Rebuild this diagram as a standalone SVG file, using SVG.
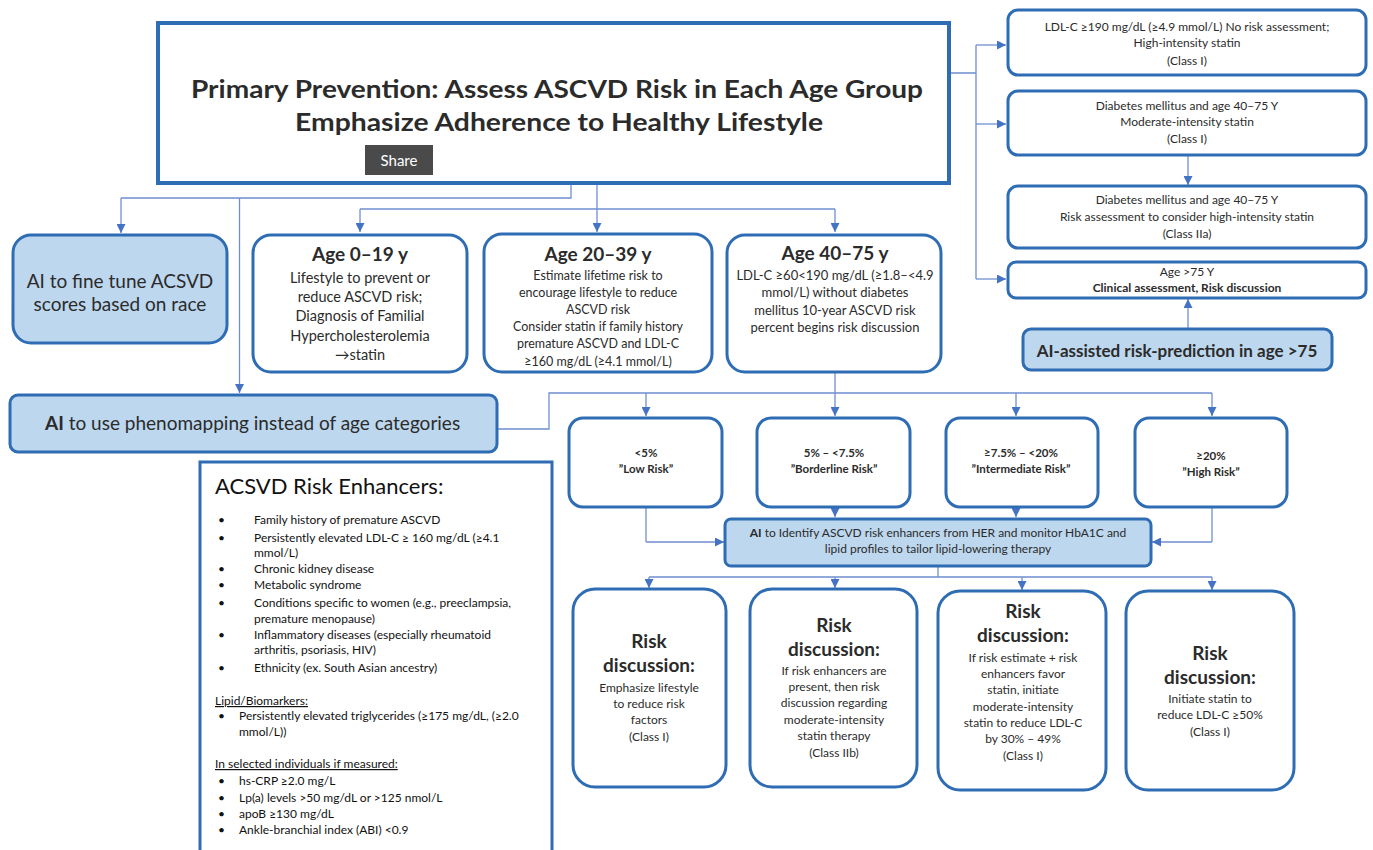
<svg xmlns="http://www.w3.org/2000/svg" width="1373" height="850" viewBox="0 0 1373 850">
<defs>
<marker id="ah" viewBox="0 0 10 10" refX="10" refY="5" markerWidth="9" markerHeight="9" orient="auto" markerUnits="userSpaceOnUse">
<path d="M0,0 L10,5 L0,10 z" fill="#4472c4"/>
</marker>
<style>
.box{fill:#fff;stroke:#2e6db4;stroke-width:3}
.ai{fill:#bdd7ee;stroke:#2e6db4;stroke-width:3}
.conn{fill:none;stroke:#6f8fd0;stroke-width:1.3}
.arr{fill:none;stroke:#6f8fd0;stroke-width:1.3;marker-end:url(#ah)}
text{font-family:Lato,"Liberation Sans",sans-serif;fill:#2b2b2b}
.c{text-anchor:middle}
.t{font-weight:bold;font-size:19px}
.s12{font-size:12px}
.rk{font-size:11.5px;font-weight:bold}
.en{font-size:12px;fill:#111}
</style>
</defs>
<rect width="1373" height="850" fill="#fff"/>

<g id="connectors">
<path class="conn" d="M571,184 V198 H121"/>
<path class="arr" d="M121,198 V233"/>
<path class="arr" d="M239.5,198 V393"/>
<path class="arr" d="M597,184 V232"/>
<path class="conn" d="M360,209 H835"/>
<path class="arr" d="M360,209 V232"/>
<path class="arr" d="M835,209 V232"/>
<path class="conn" d="M950,73 H976 M976,45 V279"/>
<path class="arr" d="M976,45 H1006"/>
<path class="arr" d="M976,124 H1006"/>
<path class="arr" d="M976,279 H1006"/>
<path class="arr" d="M1188,156 V185"/>
<path class="arr" d="M1188,328 V299"/>
<path class="conn" d="M497,429 H549 V393 H1212"/>
<path class="arr" d="M835,373 V416"/>
<path class="arr" d="M646,393 V416"/>
<path class="arr" d="M1016,393 V416"/>
<path class="arr" d="M1212,393 V416"/>
<path class="conn" d="M646,508 V542"/>
<path class="arr" d="M646,542 H724"/>
<path class="conn" d="M1212,508 V542"/>
<path class="arr" d="M1212,542 H1152"/>
<path class="arr" d="M835,508 V517"/>
<path class="arr" d="M1016,508 V517"/>
<path class="conn" d="M938,566 V577 M649,577 H1212"/>
<path class="arr" d="M649,577 V588"/>
<path class="arr" d="M835,577 V588"/>
<path class="arr" d="M1022,577 V590"/>
<path class="arr" d="M1212,577 V590"/>
</g>

<g id="main">
<rect x="158" y="23" width="791" height="160" fill="#fff" stroke="#2e6db4" stroke-width="4"/>
<text x="557" y="98" class="c" font-weight="bold" font-size="25" textLength="732" lengthAdjust="spacingAndGlyphs">Primary Prevention: Assess ASCVD Risk in Each Age Group</text>
<text x="559" y="131" class="c" font-weight="bold" font-size="25" textLength="528" lengthAdjust="spacingAndGlyphs">Emphasize Adherence to Healthy Lifestyle</text>
</g>
<g id="share">
<rect x="365" y="145" width="68" height="30" fill="#4a4a4a"/>
<text x="399" y="166" class="c" font-size="15" style="fill:#fff">Share</text>
</g>

<g id="ai-race">
<rect class="ai" x="13" y="235" width="214" height="108" rx="18"/>
<text x="120" y="288" class="c" font-size="19">AI to fine tune ACSVD</text>
<text x="120" y="311" class="c" font-size="19">scores based on race</text>
</g>

<g id="age0">
<rect class="box" x="253" y="235" width="214" height="137" rx="18"/>
<text x="360" y="261" class="c t">Age 0–19 y</text>
<text class="c" font-size="14.5"><tspan x="360" y="283">Lifestyle to prevent or</tspan><tspan x="360" y="302">reduce ASCVD risk;</tspan><tspan x="360" y="321">Diagnosis of Familial</tspan><tspan x="360" y="341">Hypercholesterolemia</tspan><tspan x="360" y="360">→statin</tspan></text>
</g>

<g id="age20">
<rect class="box" x="484" y="234" width="228" height="138" rx="18"/>
<text x="598" y="261" class="c t">Age 20–39 y</text>
<text class="c" font-size="12.5"><tspan x="598" y="280">Estimate lifetime risk to</tspan><tspan x="598" y="297">encourage lifestyle to reduce</tspan><tspan x="598" y="314">ASCVD risk</tspan><tspan x="598" y="331">Consider statin if family history</tspan><tspan x="598" y="348">premature ASCVD and LDL-C</tspan><tspan x="598" y="366">≥160 mg/dL (≥4.1 mmol/L)</tspan></text>
</g>

<g id="age40">
<rect class="box" x="727" y="235" width="214" height="137" rx="18"/>
<text x="835" y="260" class="c t">Age 40–75 y</text>
<text class="c" font-size="13"><tspan x="835" y="280">LDL-C ≥60&lt;190 mg/dL (≥1.8–&lt;4.9</tspan><tspan x="835" y="297">mmol/L) without diabetes</tspan><tspan x="835" y="315">mellitus 10-year ASCVD risk</tspan><tspan x="835" y="332">percent begins risk discussion</tspan></text>
</g>

<g id="r1">
<rect class="box" x="1008" y="10" width="358" height="65" rx="10"/>
<text class="c s12"><tspan x="1187" y="31">LDL-C ≥190 mg/dL (≥4.9 mmol/L) No risk assessment;</tspan><tspan x="1187" y="47">High-intensity statin</tspan><tspan x="1187" y="65">(Class I)</tspan></text>
</g>
<g id="r2">
<rect class="box" x="1008" y="91" width="358" height="64" rx="10"/>
<text class="c s12"><tspan x="1187" y="110">Diabetes mellitus and age 40–75 Y</tspan><tspan x="1187" y="126">Moderate-intensity statin</tspan><tspan x="1187" y="143">(Class I)</tspan></text>
</g>
<g id="r3">
<rect class="box" x="1008" y="186" width="358" height="62" rx="10"/>
<text class="c s12"><tspan x="1187" y="204">Diabetes mellitus and age 40–75 Y</tspan><tspan x="1187" y="221">Risk assessment to consider high-intensity statin</tspan><tspan x="1187" y="238">(Class IIa)</tspan></text>
</g>
<g id="r4">
<rect class="box" x="1008" y="262" width="358" height="36" rx="8"/>
<text class="c s12"><tspan x="1187" y="276">Age &gt;75 Y</tspan><tspan x="1187" y="292" font-weight="bold">Clinical assessment, Risk discussion</tspan></text>
</g>
<g id="ai-75">
<rect class="ai" x="1023" y="329" width="309" height="41" rx="8"/>
<text x="1177" y="357" class="c" font-weight="bold" font-size="17">AI-assisted risk-prediction in age &gt;75</text>
</g>

<g id="pheno">
<rect class="ai" x="10" y="395" width="487" height="57" rx="8"/>
<text x="45" y="430" font-size="19"><tspan font-weight="bold">AI</tspan> to use phenomapping instead of age categories</text>
</g>

<g id="low">
<rect class="box" x="569" y="418" width="153" height="89" rx="14"/>
<text class="c rk"><tspan x="646" y="457">&lt;5%</tspan><tspan x="646" y="473">”Low Risk”</tspan></text>
</g>
<g id="border">
<rect class="box" x="757" y="418" width="153" height="89" rx="14"/>
<text class="c rk"><tspan x="834" y="457">5% – &lt;7.5%</tspan><tspan x="834" y="473">”Borderline Risk”</tspan></text>
</g>
<g id="inter">
<rect class="box" x="946" y="418" width="152" height="89" rx="14"/>
<text class="c rk"><tspan x="1021" y="457">≥7.5% – &lt;20%</tspan><tspan x="1021" y="473">”Intermediate Risk”</tspan></text>
</g>
<g id="high">
<rect class="box" x="1135" y="418" width="152" height="89" rx="14"/>
<text class="c rk"><tspan x="1211" y="460">≥20%</tspan><tspan x="1211" y="476">”High Risk”</tspan></text>
</g>

<g id="ai-enh">
<rect class="ai" x="725" y="519" width="426" height="47" rx="6"/>
<text class="c s12"><tspan x="938" y="537"><tspan font-weight="bold">AI</tspan> to Identify ASCVD risk enhancers from HER and monitor HbA1C and</tspan><tspan x="938" y="553">lipid profiles to tailor lipid-lowering therapy</tspan></text>
</g>

<g id="d1">
<rect class="box" x="573" y="589" width="153" height="198" rx="22"/>
<text class="c t"><tspan x="649" y="648">Risk</tspan><tspan x="649" y="672">discussion:</tspan></text>
<text class="c s12"><tspan x="649" y="692">Emphasize lifestyle</tspan><tspan x="649" y="708">to reduce risk</tspan><tspan x="649" y="724">factors</tspan><tspan x="649" y="741">(Class I)</tspan></text>
</g>
<g id="d2">
<rect class="box" x="750" y="589" width="167" height="198" rx="22"/>
<text class="c t"><tspan x="834" y="632">Risk</tspan><tspan x="834" y="656">discussion:</tspan></text>
<text class="c s12"><tspan x="834" y="675">If risk enhancers are</tspan><tspan x="834" y="691">present, then risk</tspan><tspan x="834" y="707">discussion regarding</tspan><tspan x="834" y="724">moderate-intensity</tspan><tspan x="834" y="740">statin therapy</tspan><tspan x="834" y="757">(Class IIb)</tspan></text>
</g>
<g id="d3">
<rect class="box" x="938" y="591" width="168" height="199" rx="22"/>
<text class="c t"><tspan x="1023" y="618">Risk</tspan><tspan x="1023" y="642">discussion:</tspan></text>
<text class="c s12"><tspan x="1023" y="662">If risk estimate + risk</tspan><tspan x="1023" y="678">enhancers favor</tspan><tspan x="1023" y="694">statin, initiate</tspan><tspan x="1023" y="711">moderate-intensity</tspan><tspan x="1023" y="727">statin to reduce LDL-C</tspan><tspan x="1023" y="743">by 30% – 49%</tspan><tspan x="1023" y="760">(Class I)</tspan></text>
</g>
<g id="d4">
<rect class="box" x="1126" y="591" width="168" height="199" rx="22"/>
<text class="c t"><tspan x="1210" y="660">Risk</tspan><tspan x="1210" y="684">discussion:</tspan></text>
<text class="c s12"><tspan x="1210" y="703">Initiate statin to</tspan><tspan x="1210" y="719">reduce LDL-C ≥50%</tspan><tspan x="1210" y="736">(Class I)</tspan></text>
</g>

<g id="enhancers">
<rect x="200" y="462" width="352" height="392" fill="#fff" stroke="#2e6db4" stroke-width="3"/>
<text x="215" y="494" font-size="22" style="fill:#111">ACSVD Risk Enhancers:</text>
<g>
<text class="en" x="218" y="524">•</text><text class="en" x="254" y="524">Family history of premature ASCVD</text>
<text class="en" x="218" y="542">•</text><text class="en" x="254" y="542">Persistently elevated LDL-C ≥ 160 mg/dL (≥4.1</text>
<text class="en" x="254" y="557">mmol/L)</text>
<text class="en" x="218" y="573">•</text><text class="en" x="254" y="573">Chronic kidney disease</text>
<text class="en" x="218" y="589">•</text><text class="en" x="254" y="589">Metabolic syndrome</text>
<text class="en" x="218" y="607">•</text><text class="en" x="254" y="607">Conditions specific to women (e.g., preeclampsia,</text>
<text class="en" x="254" y="623">premature menopause)</text>
<text class="en" x="218" y="639">•</text><text class="en" x="254" y="639">Inflammatory diseases (especially rheumatoid</text>
<text class="en" x="254" y="654">arthritis, psoriasis, HIV)</text>
<text class="en" x="218" y="672">•</text><text class="en" x="254" y="672">Ethnicity (ex. South Asian ancestry)</text>
<text class="en" x="215" y="705" text-decoration="underline">Lipid/Biomarkers:</text>
<text class="en" x="218" y="720">•</text><text class="en" x="239" y="720">Persistently elevated triglycerides (≥175 mg/dL, (≥2.0</text>
<text class="en" x="239" y="736">mmol/L))</text>
<text class="en" x="215" y="768" text-decoration="underline">In selected individuals if measured:</text>
<text class="en" x="218" y="785">•</text><text class="en" x="239" y="785">hs-CRP ≥2.0 mg/L</text>
<text class="en" x="218" y="802">•</text><text class="en" x="239" y="802">Lp(a) levels &gt;50 mg/dL or &gt;125 nmol/L</text>
<text class="en" x="218" y="818">•</text><text class="en" x="239" y="818">apoB ≥130 mg/dL</text>
<text class="en" x="218" y="834">•</text><text class="en" x="239" y="834">Ankle-branchial index (ABI) &lt;0.9</text>
</g>
</g>
</svg>
